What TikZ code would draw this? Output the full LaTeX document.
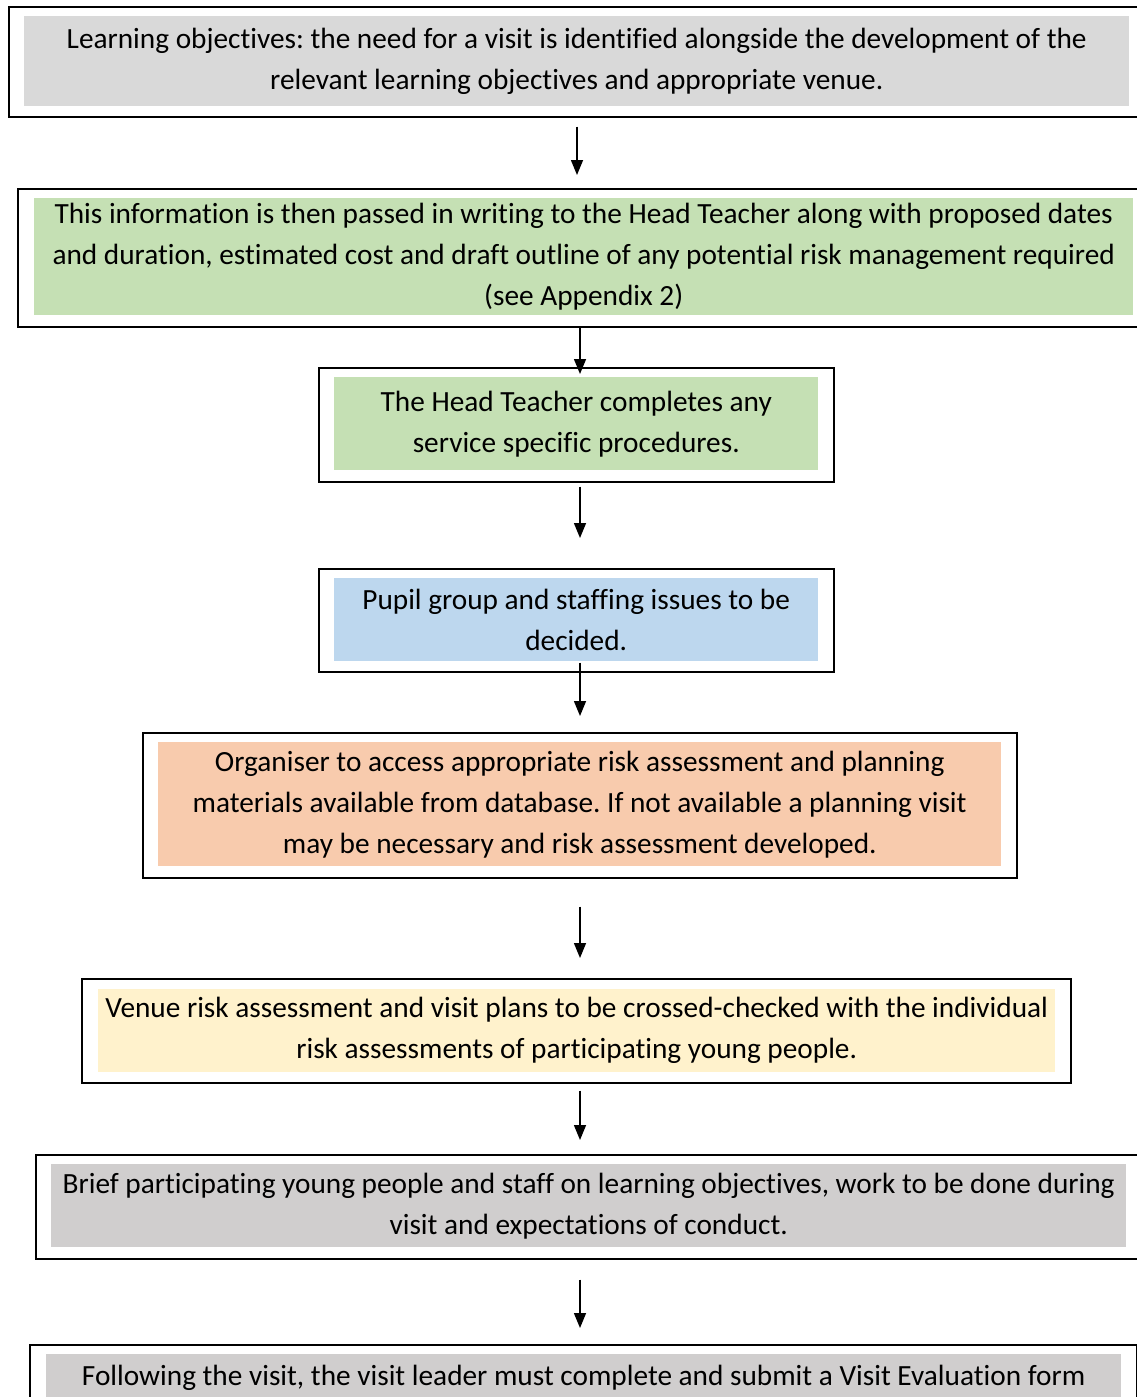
\documentclass[tikz,border=0pt]{standalone}
\usepackage{fontspec}
\setmainfont{Carlito}[Ligatures=CommonOff]
\usetikzlibrary{arrows.meta}
\definecolor{greyA}{HTML}{D9D9D9}
\definecolor{greyB}{HTML}{D0CECE}
\definecolor{greenA}{HTML}{C5E0B4}
\definecolor{blueA}{HTML}{BDD7EE}
\definecolor{orangeA}{HTML}{F8CBAD}
\definecolor{yellowA}{HTML}{FFF2CC}
\frenchspacing
\tikzset{
  frame/.style={draw, line width=1.6pt, anchor=north west, inner sep=0pt},
  stepbox/.style={anchor=north west, inner sep=0pt, align=center,
    font=\fontsize{29.3}{41}\selectfont},
  arr/.style={-{Triangle[length=15pt,width=12pt]}, line width=1.5pt}
}
\begin{document}
\begin{tikzpicture}[x=1pt,y=-1pt]
      \useasboundingbox (0,0) rectangle (1137,1397);
      \clip (0,0) rectangle (1137,1397);
      \coordinate (ax) at (580,0);
      \coordinate (ax1) at (577,0);
      % outer frames
      \node[frame, minimum width=1140, minimum height=110] (f1) at (8,6) {};
      \node[frame, minimum width=1140, minimum height=138] (f2) at (17,188) {};
      \node[frame, minimum width=515, minimum height=114] (f3) at (318,367) {};
      \node[frame, minimum width=515, minimum height=103] (f4) at (318,568) {};
      \node[frame, minimum width=874, minimum height=145] (f5) at (142,732) {};
      \node[frame, minimum width=989, minimum height=104] (f6) at (81,978) {};
      \node[frame, minimum width=1140, minimum height=104] (f7) at (35,1154) {};
      \node[frame, minimum width=1107, minimum height=100] (f8) at (29,1344) {};
      % coloured steps
      \node[stepbox, fill=greyA, minimum width=1105, minimum height=90] (t1) at (24,16)
        {Learning objectives: the need for a visit is identified alongside the development of the\\
         relevant learning objectives and appropriate venue.};
      \node[stepbox, fill=greenA, minimum width=1099, minimum height=117] (t2) at (34,198)
        {This information is then passed in writing to the Head Teacher along with proposed dates\\
         and duration, estimated cost and draft outline of any potential risk management required\\
         (see Appendix 2)};
      \node[stepbox, fill=greenA, minimum width=484, minimum height=93] (t3) at (334,377)
        {The Head Teacher completes any\\ service specific procedures.};
      \node[stepbox, fill=blueA, minimum width=484, minimum height=83] (t4) at (334,578)
        {Pupil group and staffing issues to be\\ decided.};
      \node[stepbox, fill=orangeA, minimum width=843, minimum height=124] (t5) at (158,742)
        {Organiser to access appropriate risk assessment and planning\\
         materials available from database. If not available a planning visit\\
         may be necessary and risk assessment developed.};
      \node[stepbox, fill=yellowA, minimum width=957, minimum height=83] (t6) at (98,989)
        {Venue risk assessment and visit plans to be crossed-checked with the individual\\
         risk assessments of participating young people.};
      \node[stepbox, fill=greyB, minimum width=1075, minimum height=83] (t7) at (51,1164)
        {Brief participating young people and staff on learning objectives, work to be done during\\
         visit and expectations of conduct.};
      \node[stepbox, fill=greyB, minimum width=1075, minimum height=83] (t8) at (46,1354)
        {Following the visit, the visit leader must complete and submit a Visit Evaluation form\\ \mbox{}};
      % arrows
      \draw[arr, shorten <=9pt, shorten >=13pt] (f1.south -| ax1) -- (f2.north -| ax1);
      \draw[arr, shorten >=-7pt] (f2.south -| ax) -- (f3.north -| ax);
      \draw[arr, shorten <=4pt, shorten >=30pt] (f3.south -| ax) -- (f4.north -| ax);
      \draw[arr, shorten <=-10pt, shorten >=16pt] (f4.south -| ax) -- (f5.north -| ax);
      \draw[arr, shorten <=28pt, shorten >=20pt] (f5.south -| ax) -- (f6.north -| ax);
      \draw[arr, shorten <=7pt, shorten >=14pt] (f6.south -| ax) -- (f7.north -| ax);
      \draw[arr, shorten <=20pt, shorten >=16pt] (f7.south -| ax) -- (f8.north -| ax);
    \end{tikzpicture}
\end{document}
